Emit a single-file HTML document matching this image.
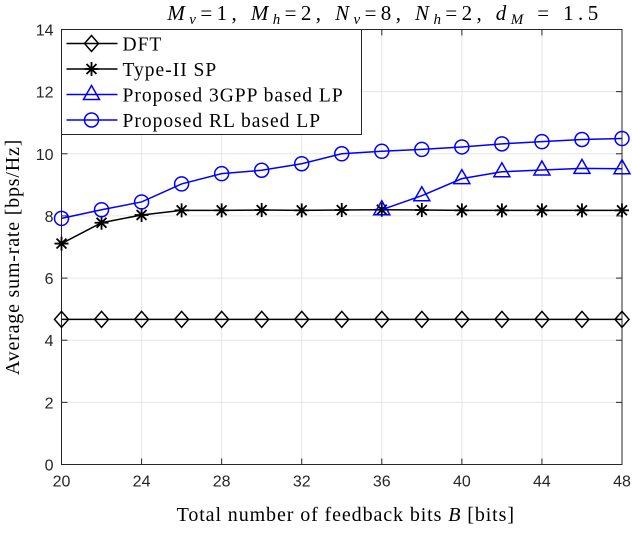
<!DOCTYPE html>
<html><head><meta charset="utf-8"><style>
body{margin:0;background:#fff}
svg{font-family:"Liberation Serif",serif}
.tk{font-family:"Liberation Sans",sans-serif;font-size:16px;fill:#262626}
</style></head><body>
<svg id="c" width="632" height="528" xmlns="http://www.w3.org/2000/svg"></svg>
<script>
const xVals=[20,22,24,26,28,30,32,34,36,38,40,42,44,46,48];
const dft=[4.67,4.67,4.67,4.67,4.67,4.67,4.67,4.67,4.67,4.67,4.67,4.67,4.67,4.67,4.67];
const sp=[7.11,7.78,8.03,8.18,8.18,8.19,8.18,8.19,8.2,8.19,8.18,8.18,8.18,8.18,8.18];
const gppX=[36,38,40,42,44,46,48];
const gpp=[8.2,8.65,9.2,9.42,9.48,9.53,9.52];
const rl=[7.92,8.2,8.45,9.03,9.36,9.47,9.68,10.0,10.08,10.14,10.22,10.32,10.39,10.46,10.49];
const xTicks=[20,24,28,32,36,40,44,48];
const yTicks=[0,2,4,6,8,10,12,14];
const L=61.5,R=622,T=29.5,B=464.5;
const X=v=>L+(v-20)/28*(R-L), Y=v=>B-v/14*(B-T);
const s=document.getElementById('c'),NS='http://www.w3.org/2000/svg';
function el(t,a,n,i,txt){const e=document.createElementNS(NS,t);for(const k in a)e.setAttribute(k,a[k]);


if(txt!==undefined)e.innerHTML=txt;s.appendChild(e);return e;}
el('rect',{x:L,y:T,width:R-L,height:B-T,fill:'#fff'},'plot-area',false);
xTicks.forEach(v=>{el('line',{x1:X(v),x2:X(v),y1:T,y2:B,stroke:'#e6e6e6'},'x-grid',false);
el('line',{x1:X(v),x2:X(v),y1:B,y2:B-6,stroke:'#262626'},'x-tick',false);
el('line',{x1:X(v),x2:X(v),y1:T,y2:T+6,stroke:'#262626'},'x-tick',false);
el('text',{x:X(v),y:B+22,'text-anchor':'middle',class:'tk'},'x-tick-label',false,v);});
yTicks.forEach(v=>{el('line',{x1:L,x2:R,y1:Y(v),y2:Y(v),stroke:'#e6e6e6'},'y-grid',false);
el('line',{x1:L,x2:L+6,y1:Y(v),y2:Y(v),stroke:'#262626'},'y-tick',false);
el('line',{x1:R,x2:R-6,y1:Y(v),y2:Y(v),stroke:'#262626'},'y-tick',false);
el('text',{x:L-8,y:Y(v)+6,'text-anchor':'end',class:'tk'},'y-tick-label',false,v);});
el('rect',{x:L,y:T,width:R-L,height:B-T,fill:'none',stroke:'#262626'},'axes-box',false);
function mark(type,x,y,col,n){
 if(type==='d')el('polygon',{points:`${x},${y-8} ${x+7},${y} ${x},${y+8} ${x-7},${y}`,fill:'none',stroke:col,'stroke-width':1.5},n,false);
 else if(type==='o')el('circle',{cx:x,cy:y,r:7,fill:'none',stroke:col,'stroke-width':1.5},n,false);
 else if(type==='t')el('polygon',{points:`${x},${y-9} ${x+8},${y+5} ${x-8},${y+5}`,fill:'none',stroke:col,'stroke-width':1.5},n,false);
 else{let p='';for(let k=0;k<4;k++){const a=k*Math.PI/4;p+=`M${x-7*Math.cos(a)},${y-7*Math.sin(a)}L${x+7*Math.cos(a)},${y+7*Math.sin(a)}`;}
 el('path',{d:p,stroke:col,'stroke-width':1.8},n,false);}
}
function series(xs,ys,col,type,n){
 el('polyline',{points:xs.map((x,i)=>X(x)+','+Y(ys[i])).join(' '),fill:'none',stroke:col,'stroke-width':1.5},n+'-line',false);
 xs.forEach((x,i)=>mark(type,X(x),Y(ys[i]),col,n+'-marker'));
}
series(xVals,dft,'#000','d','dft');
series(xVals,sp,'#000','s','type2-sp');
series(gppX,gpp,'#0000ff','t','3gpp-lp');
series(xVals,rl,'#0000ff','o','rl-lp');
// legend
el('rect',{x:L,y:T,width:300,height:105,fill:'#fff',stroke:'#262626'},'legend-box',false);
const leg=[['DFT','#000','d'],['Type-II SP','#000','s'],['Proposed 3GPP based LP','#0000ff','t'],['Proposed RL based LP','#0000ff','o']];
leg.forEach((l,i)=>{const y=T+14+i*25.5;
el('line',{x1:L+5,x2:L+56,y1:y,y2:y,stroke:l[1],'stroke-width':1.5},'legend-line',false);
mark(l[2],L+30,y,l[1],'legend-marker');
el('text',{x:L+61,y:y+7,'font-size':19.5,'letter-spacing':1,fill:'#000'},'legend-entry',false,l[0]);});
el('text',{x:385,y:20,'text-anchor':'middle','font-size':21,'letter-spacing':4.4,fill:'#000'},'chart-title',false,
'<tspan font-style="italic">M</tspan><tspan font-style="italic" font-size="15" dy="4">v</tspan><tspan dy="-4">=1, </tspan><tspan font-style="italic">M</tspan><tspan font-style="italic" font-size="15" dy="4">h</tspan><tspan dy="-4">=2, </tspan><tspan font-style="italic">N</tspan><tspan font-style="italic" font-size="15" dy="4">v</tspan><tspan dy="-4">=8, </tspan><tspan font-style="italic">N</tspan><tspan font-style="italic" font-size="15" dy="4">h</tspan><tspan dy="-4">=2, </tspan><tspan font-style="italic">d</tspan><tspan font-style="italic" font-size="15" dy="4">M</tspan><tspan dy="-4"> = 1.5</tspan>');
el('text',{x:(L+R)/2+4,y:521,'text-anchor':'middle','font-size':20,'letter-spacing':0.9,fill:'#000'},'x-axis-title',false,'Total number of feedback bits <tspan font-style="italic">B</tspan> [bits]');
el('text',{x:0,y:0,transform:`translate(19,${(T+B)/2+10}) rotate(-90)`,'text-anchor':'middle','font-size':20,'letter-spacing':0.8,fill:'#000'},'y-axis-title',false,'Average sum-rate [bps/Hz]');
</script>
</body></html>
